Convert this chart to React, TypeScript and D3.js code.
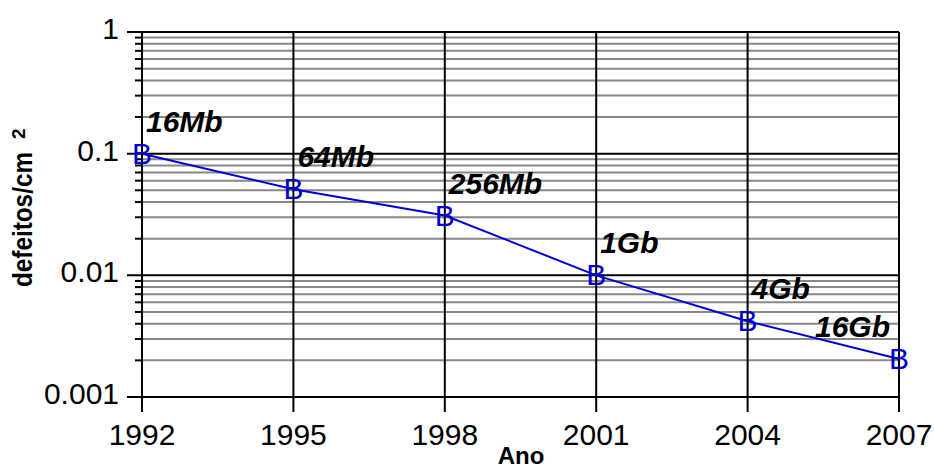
import React from "react";
import * as d3 from "d3";

const years = [1992, 1995, 1998, 2001, 2004, 2007];
const defects = [0.1, 0.051, 0.031, 0.01, 0.0042, 0.00205];
const chipLabels = ["16Mb", "64Mb", "256Mb", "1Gb", "4Gb", "16Gb"];
const xTickLabels = ["1992", "1995", "1998", "2001", "2004", "2007"];
const yTickValues = [1, 0.1, 0.01, 0.001];
const yTickLabels = ["1", "0.1", "0.01", "0.001"];

const W = 934;
const H = 468;
const left = 142;
const right = 899;
const top = 32;
const bottom = 397;

export default function App() {
  const x = d3.scaleLinear().domain([1992, 2007]).range([left, right]);
  const y = d3.scaleLog().domain([0.001, 1]).range([bottom, top]);

  const minor: number[] = [];
  for (const dec of [0.001, 0.01, 0.1]) {
    for (let k = 2; k <= 9; k++) minor.push(dec * k);
  }

  const line = d3
    .line<number>()
    .x((_, i) => x(years[i]))
    .y((d) => y(d));

  const font = "'Liberation Sans', Arial, sans-serif";

  return (
    <svg
      width={W}
      height={H}
      style={{ position: "absolute", left: 0, top: 0, background: "#fff" }}
      fontFamily={font}
    >
      <rect x={0} y={0} width={W} height={H} fill="#fff" />
      {minor.map((v, i) => (
        <g key={"m" + i}>
          <line x1={left} x2={right} y1={y(v)} y2={y(v)} stroke="#888" strokeWidth={2} />
          <line x1={left - 7} x2={left} y1={y(v)} y2={y(v)} stroke="#000" strokeWidth={2} />
        </g>
      ))}
      {yTickValues.map((v, i) => (
        <g key={"M" + i}>
          <line x1={left - 15} x2={right} y1={y(v)} y2={y(v)} stroke="#000" strokeWidth={2} />
          <text x={left - 23} y={y(v) + 7} textAnchor="end" fontSize={30} fill="#000">
            {yTickLabels[i]}
          </text>
        </g>
      ))}
      {years.map((yr, i) => (
        <g key={"v" + i}>
          <line x1={x(yr)} x2={x(yr)} y1={top} y2={bottom + 15} stroke="#000" strokeWidth={2} />
          <text x={x(yr)} y={bottom + 48} textAnchor="middle" fontSize={30} fill="#000">
            {xTickLabels[i]}
          </text>
        </g>
      ))}
      <path d={line(defects) || ""} fill="none" stroke="#0000dd" strokeWidth={2} />
      {defects.map((v, i) => (
        <text
          key={"b" + i}
          x={x(years[i])}
          y={y(v) + 10}
          textAnchor="middle"
          fontSize={30}
          fill="#0000cc"
        >
          B
        </text>
      ))}
      {chipLabels.map((lab, i) => {
        const last = i === chipLabels.length - 1;
        return (
          <text
            key={"l" + i}
            x={x(years[i]) + (last ? -9 : 4)}
            y={y(defects[i]) - 22}
            textAnchor={last ? "end" : "start"}
            fontSize={30}
            fontWeight="bold"
            fontStyle="italic"
            fill="#000"
          >
            {lab}
          </text>
        );
      })}
      <text x={521} y={464} textAnchor="middle" fontSize={24} fontWeight="bold" fill="#000">
        Ano
      </text>
      <g transform="translate(32,287) rotate(-90)">
        <text
          x={0}
          y={0}
          fontSize={28}
          fontWeight="bold"
          fill="#000"
          textLength={135}
          lengthAdjust="spacingAndGlyphs"
        >
          defeitos/cm
        </text>
        <text x={148} y={-7} fontSize={19} fontWeight="bold" fill="#000">
          2
        </text>
      </g>
    </svg>
  );
}
